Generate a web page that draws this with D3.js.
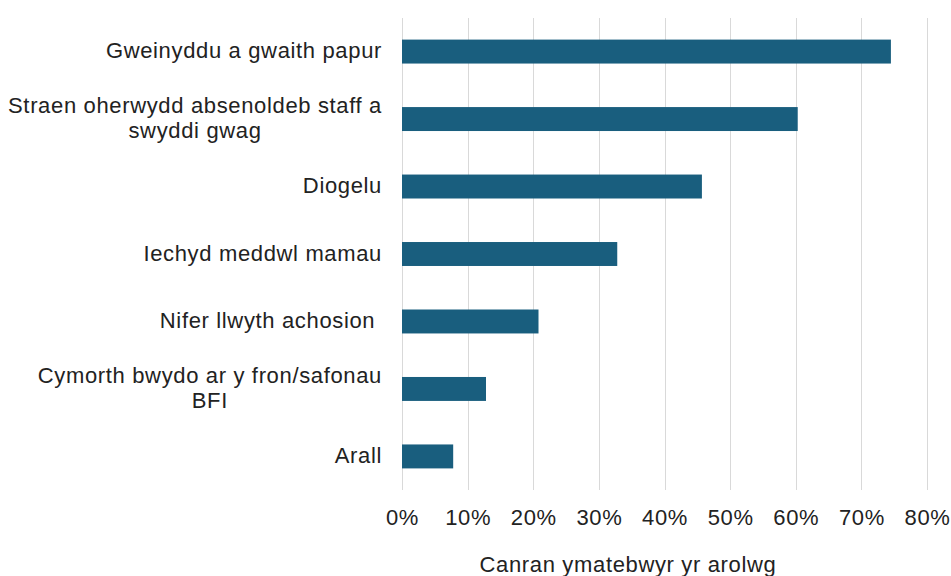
<!DOCTYPE html>
<html>
<head>
<meta charset="utf-8">
<script src="https://cdn.jsdelivr.net/npm/d3@7"></script>
<style>
  html, body { margin: 0; padding: 0; background: #fff; }
  svg { display: block; font-family: "Liberation Sans", Arial, sans-serif; }
</style>
</head>
<body>
<svg id="chart" width="951" height="576"></svg>
<script>
// Survey responses: share of respondents naming each issue
const categories = [
  ["Gweinyddu a gwaith papur"],
  ["Straen oherwydd absenoldeb staff a", "swyddi gwag"],
  ["Diogelu"],
  ["Iechyd meddwl mamau"],
  ["Nifer llwyth achosion "],
  ["Cymorth bwydo ar y fron/safonau", "BFI"],
  ["Arall"]
];
const values = [74.5, 60.3, 45.7, 32.8, 20.8, 12.8, 7.8];
const tickValues = [0, 10, 20, 30, 40, 50, 60, 70, 80];
const axisTitle = "Canran ymatebwyr yr arolwg";

const svg = d3.select("#chart");
const margin = { left: 402, right: 24, top: 18, bottom: 86 };
const W = 951, H = 576;
const fontSize = 22;
const spacing = "0.65px";
const textColour = "#222222";

const x = d3.scaleLinear().domain([0, 80]).range([margin.left, W - margin.right]);
const y = d3.scaleBand()
  .domain(d3.range(categories.length))
  .range([margin.top, H - margin.bottom])
  .paddingInner(0.645)
  .paddingOuter(0.32);

// vertical gridlines
svg.append("g")
  .selectAll("line")
  .data(tickValues)
  .join("line")
  .attr("x1", d => Math.round(x(d)) + 0.5)
  .attr("x2", d => Math.round(x(d)) + 0.5)
  .attr("y1", margin.top)
  .attr("y2", H - margin.bottom)
  .attr("stroke", "#d9d9d9")
  .attr("stroke-width", 1);

// bars
svg.append("g")
  .selectAll("rect")
  .data(values)
  .join("rect")
  .attr("x", x(0))
  .attr("y", (d, i) => y(i))
  .attr("width", d => x(d) - x(0))
  .attr("height", y.bandwidth())
  .attr("fill", "#195e7e");

// x axis tick labels
const xAxis = d3.axisBottom(x)
  .tickValues(tickValues)
  .tickFormat(d => d + "%")
  .tickSize(0)
  .tickPadding(0);
const gx = svg.append("g")
  .attr("transform", `translate(0, 525)`)
  .call(xAxis);
gx.select(".domain").remove();
gx.selectAll("text")
  .attr("dy", 0)
  .attr("font-size", fontSize)
  .attr("font-family", "Liberation Sans, Arial, sans-serif")
  .attr("letter-spacing", spacing)
  .attr("fill", textColour);

// category labels: block right-aligned, lines centred within the block
const labelRight = 382;
const lineH = 25;
const labelG = svg.append("g")
  .attr("font-size", fontSize)
  .attr("letter-spacing", spacing)
  .attr("fill", textColour);
categories.forEach((lines, i) => {
  const cy = y(i) + y.bandwidth() / 2 - 1;
  const g = labelG.append("g");
  const texts = lines.map((line, k) =>
    g.append("text")
      .attr("y", cy + (k - (lines.length - 1) / 2) * lineH)
      .attr("dy", "0.35em")
      .attr("xml:space", "preserve")
      .style("white-space", "pre")
      .text(line)
  );
  const widths = texts.map(t => t.node().getComputedTextLength());
  const maxW = d3.max(widths);
  const centre = labelRight - maxW / 2;
  texts.forEach(t => t.attr("x", centre).attr("text-anchor", "middle"));
});

// axis title
svg.append("text")
  .attr("x", 628)
  .attr("y", 572)
  .attr("text-anchor", "middle")
  .attr("font-size", fontSize)
  .attr("letter-spacing", spacing)
  .attr("fill", textColour)
  .text(axisTitle);
</script>
</body>
</html>
